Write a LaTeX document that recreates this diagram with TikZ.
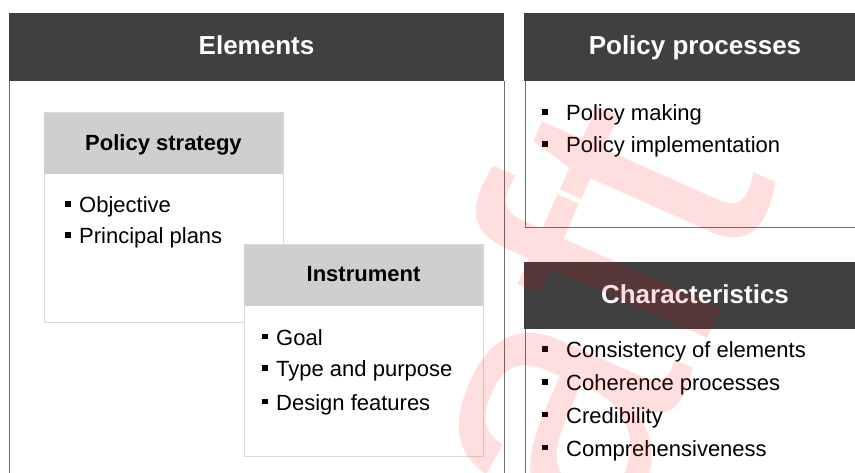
\documentclass[tikz,border=0pt]{standalone}
\usepackage{fontspec}
\setmainfont{Liberation Sans}
\definecolor{darkhead}{HTML}{404040}
\definecolor{lighthead}{HTML}{D0CECE}
\definecolor{panelline}{HTML}{6E6E6E}
\definecolor{boxline}{HTML}{DADADA}
\newcommand{\sqb}{\rule[6pt]{5.5pt}{5.5pt}}
\begin{document}
\begin{tikzpicture}[x=1pt,y=-1pt,
  headbar/.style={fill=darkhead, draw=none, inner sep=0pt, outer sep=0pt, anchor=north west},
  subbar/.style={fill=lighthead, draw=none, inner sep=0pt, outer sep=0pt, anchor=north west},
  cardbox/.style={draw=boxline, fill=white, line width=1pt, inner sep=0pt, outer sep=0pt, anchor=north west},
  headtext/.style={font=\fontsize{26}{30}\selectfont\bfseries, text=white, anchor=base, inner sep=0pt},
  subtext/.style={font=\fontsize{22}{26}\selectfont\bfseries, text=black, anchor=base, inner sep=0pt},
  entry/.style={font=\fontsize{22}{26}\selectfont, text=black, anchor=base west, inner sep=0pt},
  frame/.style={draw=panelline, line width=1pt},
  watermark/.style={font=\fontsize{370}{370}\selectfont, text=red, text opacity=0.13,
                    rotate=66, anchor=base west, inner sep=0pt},
]
\fill[white] (0,0) rectangle (855,473);
\useasboundingbox (0,0) rectangle (855,473);

% ---- Elements panel ----
\node[headbar, minimum width=495pt, minimum height=68pt] (elemH) at (9,13) {};
\coordinate (elemBL) at (9,495);
\coordinate (elemBR) at (504,495);
\draw[frame] (elemH.south west) -- (elemBL);
\draw[frame] (elemH.south east) -- (elemBR);
\node[headtext] (elemT) at (256.5,54.5) {Elements};

% policy strategy card
\node[cardbox, minimum width=239pt, minimum height=210pt] (stratBox) at (44,113) {};
\node[subbar, minimum width=239pt, minimum height=61pt] (stratH) at (44,113) {};
\node[subtext] (stratT) at (163.5,151) {Policy strategy};
\node[entry] (s1) at (65,213) {\makebox[14pt][l]{\sqb}Objective};
\node[entry] (s2) at (65,244) {\makebox[14pt][l]{\sqb}Principal plans};

% instrument card
\node[cardbox, minimum width=239pt, minimum height=211pt] (instBox) at (244,245) {};
\node[subbar, minimum width=239pt, minimum height=61pt] (instH) at (244,245) {};
\node[subtext] (instT) at (363.5,282) {Instrument};
\node[entry] (i1) at (262,345) {\makebox[14pt][l]{\sqb}Goal};
\node[entry] (i2) at (262,377) {\makebox[14pt][l]{\sqb}Type and purpose};
\node[entry] (i3) at (262,410) {\makebox[14pt][l]{\sqb}Design features};

% ---- Policy processes panel ----
\node[headbar, minimum width=342pt, minimum height=68pt] (procH) at (524,13) {};
\coordinate (procBL) at (525,228);
\coordinate (procBR) at (870,228);
\draw[frame] (procH.south west) ++(1,0) -- (procBL) -- (procBR);
\node[headtext] (procT) at (695,55) {Policy processes};
\node[entry] (p1) at (542,121) {\makebox[24pt][l]{\sqb}Policy making};
\node[entry] (p2) at (542,153) {\makebox[24pt][l]{\sqb}Policy implementation};

% ---- Characteristics panel ----
\node[headbar, minimum width=342pt, minimum height=67pt] (charH) at (524,262) {};
\coordinate (charBL) at (525,495);
\draw[frame] (charH.south west) ++(1,0) -- (charBL);
\node[headtext] (charT) at (695,304) {Characteristics};
\node[entry] (c1) at (542,358) {\makebox[24pt][l]{\sqb}Consistency of elements};
\node[entry] (c2) at (542,391) {\makebox[24pt][l]{\sqb}Coherence processes};
\node[entry] (c3) at (542,423) {\makebox[24pt][l]{\sqb}Credibility};
\node[entry] (c4) at (542,456) {\makebox[24pt][l]{\sqb}Comprehensiveness};

% ---- watermark ----
\node[watermark] (wm) at (452,913) {Draft};
\end{tikzpicture}
\end{document}
